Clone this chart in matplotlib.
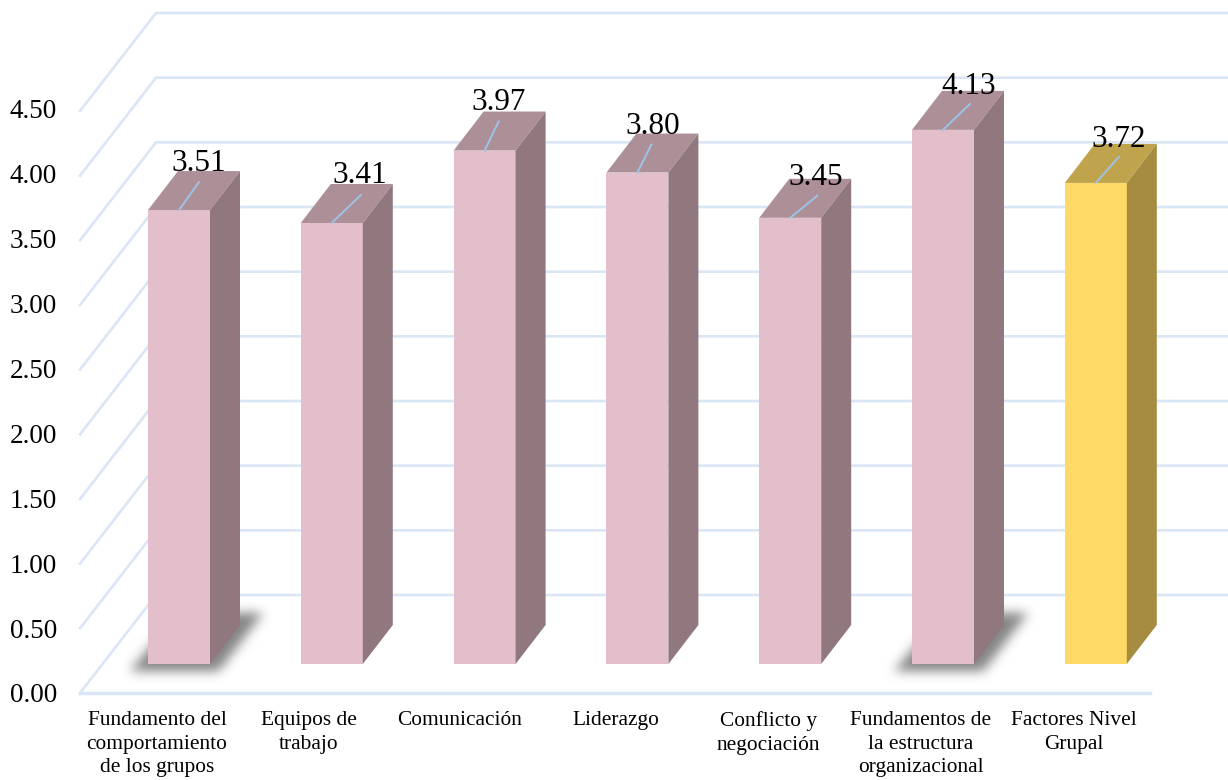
import numpy as np
import matplotlib
matplotlib.use('Agg')
import matplotlib.pyplot as plt
from matplotlib.path import Path
from matplotlib.patches import Polygon

plt.rcParams['font.family'] = ['Liberation Serif', 'DejaVu Serif']

categories = ['Fundamento del\ncomportamiento\nde los grupos', 'Equipos de\ntrabajo', 'Comunicación',
              'Liderazgo', 'Conflicto y\nnegociación', 'Fundamentos de\nla estructura\norganizacional',
              'Factores Nivel\nGrupal']
values = [3.51, 3.41, 3.97, 3.80, 3.45, 4.13, 3.72]
value_labels = ['3.51', '3.41', '3.97', '3.80', '3.45', '4.13', '3.72']
y_ticks = [0, 0.5, 1, 1.5, 2, 2.5, 3, 3.5, 4, 4.5]

# layout in pixels of the 1228x780 picture
x_first, x_step = 179.0, 152.8
y_zero, y_unit = 693.0, 129.33
ux = 1 / x_step
uy = 1 / y_unit

pink = ('#E3BFCB', '#AD8F98', '#91787F')
yellow = ('#FFD966', '#BFA34D', '#A68C40')
bar_colors = [pink] * 6 + [yellow]
grid_color = '#DAE6F5'
leader_color = '#9DC3E6'
leader_dx = [20, 29, 14, 14, 27, 27, 23]
leader_dy = [28, 28, 29, 28, 22, 26, 26]
label_dx = [20, 28, 14, 15, 26, 26, 23]
label_up = [50, 51, 52, 50, 44, 47, 47]
cat_dx = [-22, -23, -25, -22, -22, -22, -22]
has_shadow = [True, False, False, False, False, True, False]

bar_w = 62 * ux
bar_base = 29 * uy
depth_x = 30 * ux
depth_y = 39 * uy
wall_x = 76 * ux
wall_y = 98 * uy

fig = plt.figure(figsize=(12.28, 7.8), dpi=100)
ax = fig.add_axes([0, 0, 1, 1])
ax.axis('off')

# walls and floor
left = (80 - x_first) * ux
right_back = (1228 - x_first) * ux
right_front = (1150 - x_first) * ux
for t in y_ticks:
    ax.plot([left, left + wall_x, right_back], [t, t + wall_y, t + wall_y],
            color=grid_color, lw=1.9, zorder=1, solid_joinstyle='miter')
    ax.text((57 - x_first) * ux, t * 1.0035, '%.2f' % t, ha='right', va='center_baseline', fontsize=19.5, color='black')
ax.plot([left, right_front], [0, 0], color=grid_color, lw=2.5, zorder=1)

# blurred floor shadow, grid in pixels then smoothed
def shadow(center):
    cx = x_first + center * x_step
    xs = np.arange(cx - 85, cx + 120)
    ys = np.arange(585, 700)
    gx, gy = np.meshgrid(xs, ys)
    poly = Path([(cx - 49, 671), (cx + 40, 671), (cx + 85, 612), (cx, 612)])
    mask = poly.contains_points(np.c_[gx.ravel(), gy.ravel()]).reshape(gx.shape).astype(float)
    kernel = np.exp(-np.arange(-18, 19) ** 2 / (2 * 5.5 ** 2))
    kernel /= kernel.sum()
    mask = np.apply_along_axis(lambda r: np.convolve(r, kernel, mode='same'), 0, mask)
    mask = np.apply_along_axis(lambda r: np.convolve(r, kernel, mode='same'), 1, mask)
    rgba = np.zeros(mask.shape + (4,))
    rgba[..., :3] = 0.52
    rgba[..., 3] = mask
    ax.imshow(rgba, extent=[(xs[0] - x_first) * ux, (xs[-1] - x_first) * ux,
                            (y_zero - ys[-1]) * uy, (y_zero - ys[0]) * uy],
              origin='upper', aspect='auto', zorder=2, interpolation='bilinear')

for i, v in enumerate(values):
    if has_shadow[i]:
        shadow(i)

ax.set_xlim((0 - x_first) * ux, (1228 - x_first) * ux)
ax.set_ylim((y_zero - 780) * uy, y_zero * uy)

for i, v in enumerate(values):
    front, top, side = bar_colors[i]
    x0 = i - bar_w / 2
    x1 = i + bar_w / 2
    y0 = bar_base
    y1 = bar_base + v
    ax.add_patch(Polygon([(x0, y0), (x1, y0), (x1, y1), (x0, y1)], fc=front, ec='none', zorder=3))
    ax.add_patch(Polygon([(x0, y1), (x1, y1), (x1 + depth_x, y1 + depth_y), (x0 + depth_x, y1 + depth_y)],
                         fc=top, ec='none', zorder=3))
    ax.add_patch(Polygon([(x1, y0), (x1 + depth_x, y0 + depth_y), (x1 + depth_x, y1 + depth_y), (x1, y1)],
                         fc=side, ec='none', zorder=3))
    ax.plot([i, i + leader_dx[i] * ux], [y1, y1 + leader_dy[i] * uy], color=leader_color, lw=1.4, zorder=4)
    ax.text(i + label_dx[i] * ux, y1 + label_up[i] * uy, value_labels[i], ha='center', va='center_baseline',
            fontsize=22.5, color='black', zorder=5)
    ax.text(i + cat_dx[i] * ux, (y_zero - 711) * uy, categories[i], ha='center', va='top', fontsize=15.4,
            linespacing=1.33, color='black', zorder=5)

fig.savefig('out.png', dpi=100)
